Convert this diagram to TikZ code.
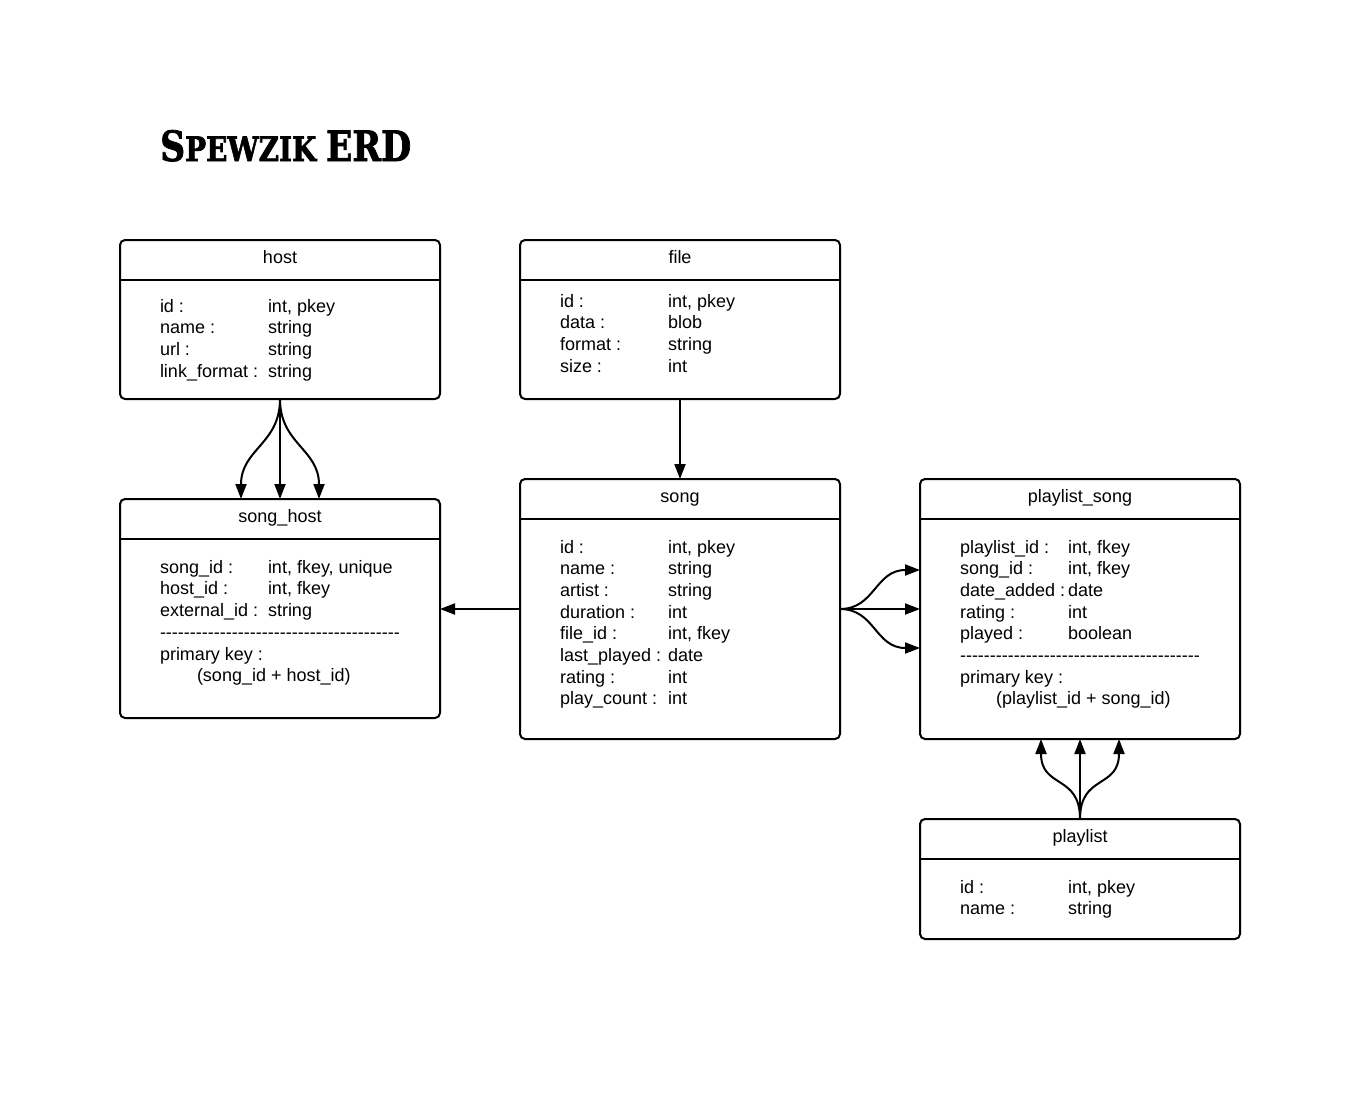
\documentclass[tikz,border=0pt]{standalone}
\usepackage{graphicx}
\usepackage{fontspec}
\setmainfont{Liberation Sans}[Ligatures=TeXOff]
\newfontfamily\titlefnt{DejaVu Serif}[FakeBold=2]
\usetikzlibrary{arrows.meta}
\newcommand\fieldrows[5]{%
  \foreach \a/\b [count=\i from 0] in {#5} {%
    \node[txt] (#1-a\i) at (#2, #4+21.7*\i) {\a};
    \node[txt] (#1-b\i) at (#3, #4+21.7*\i) {\b};
  }}
\begin{document}
\begin{tikzpicture}[x=1pt,y=-1pt,
  ent/.style={draw, line width=2pt, rounded corners=5pt, minimum width=320pt,
    anchor=north west, inner sep=0pt, outer sep=0pt},
  sep/.style={line width=2pt},
  txt/.style={anchor=base west, inner sep=0pt, outer sep=0pt, font=\fontsize{18}{21.7}\selectfont},
  hdr/.style={anchor=base, inner sep=0pt, outer sep=0pt, font=\fontsize{18}{21.7}\selectfont},
  conn/.style={line width=2pt, -{Triangle[length=15pt,width=11pt]}}]
\useasboundingbox (0,0) rectangle (1349,1114);
\fill[white] (0,0) rectangle (1349,1114);

% title
\node[anchor=base west, inner sep=0pt] (title) at (160,161)
  {\resizebox{251pt}{31pt}{\titlefnt\bfseries\fontsize{41}{41}\selectfont S\fontsize{33}{33}\selectfont PEWZIK \fontsize{41}{41}\selectfont ERD}};

% entity boxes
\node[ent, minimum height=159pt] (host) at (120,240) {};
\node[ent, minimum height=159pt] (file) at (520,240) {};
\node[ent, minimum height=219pt] (songhost) at (120,499) {};
\node[ent, minimum height=260pt] (song) at (520,479) {};
\node[ent, minimum height=260pt] (plsong) at (920,479) {};
\node[ent, minimum height=120pt] (playlist) at (920,819) {};

% header dividers
\foreach \n in {host,file,songhost,song,plsong,playlist}
  \draw[sep] ([yshift=-40pt]\n.north west) -- ([yshift=-40pt]\n.north east);

% headers
\node[hdr] (host-h) at (280,263) {host};
\node[hdr] (file-h) at (680,263) {file};
\node[hdr] (songhost-h) at (280,522) {song\_host};
\node[hdr] (song-h) at (680,502) {song};
\node[hdr] (plsong-h) at (1080,502) {playlist\_song};
\node[hdr] (playlist-h) at (1080,842) {playlist};

% fields
\fieldrows{hf}{160}{268}{312}{id :/{int, pkey}, name :/string, url :/string, link\_format :/string}
\fieldrows{ff}{560}{668}{307}{id :/{int, pkey}, data :/blob, format :/string, size :/int}
\fieldrows{shf}{160}{268}{573}{song\_id :/{int, fkey, unique}, host\_id :/{int, fkey}, external\_id :/string}
\node[txt] (sh-dash) at (160,638) {----------------------------------------};
\node[txt] (sh-pk) at (160,660) {primary key :};
\node[txt] (sh-pkv) at (197,681) {(song\_id + host\_id)};
\fieldrows{sf}{560}{668}{553}{id :/{int, pkey}, name :/string, artist :/string, duration :/int, file\_id :/{int, fkey}, last\_played :/date, rating :/int, play\_count :/int}
\fieldrows{psf}{960}{1068}{553}{playlist\_id :/{int, fkey}, song\_id :/{int, fkey}, date\_added :/date, rating :/int, played :/boolean}
\node[txt] (ps-dash) at (960,661) {----------------------------------------};
\node[txt] (ps-pk) at (960,683) {primary key :};
\node[txt] (ps-pkv) at (996,704) {(playlist\_id + song\_id)};
\fieldrows{pf}{960}{1068}{893}{id :/{int, pkey}, name :/string}

% connectors
\draw[conn] (host.south) .. controls +(0,45) and +(0,-50) .. ([xshift=-39pt]songhost.north);
\draw[conn] (host.south) -- (songhost.north);
\draw[conn] (host.south) .. controls +(0,45) and +(0,-50) .. ([xshift=39pt]songhost.north);

\draw[conn] (file.south) -- (song.north);
\draw[conn] (song.west) -- (songhost.east |- song.west);

\draw[conn] (song.east) .. controls +(35,0) and +(-45,0) .. ([yshift=39pt]plsong.west);
\draw[conn] (song.east) -- (plsong.west);
\draw[conn] (song.east) .. controls +(35,0) and +(-45,0) .. ([yshift=-39pt]plsong.west);

\draw[conn] (playlist.north) .. controls +(0,-45) and +(0,50) .. ([xshift=-39pt]plsong.south);
\draw[conn] (playlist.north) -- (plsong.south);
\draw[conn] (playlist.north) .. controls +(0,-45) and +(0,50) .. ([xshift=39pt]plsong.south);
\end{tikzpicture}
\end{document}
